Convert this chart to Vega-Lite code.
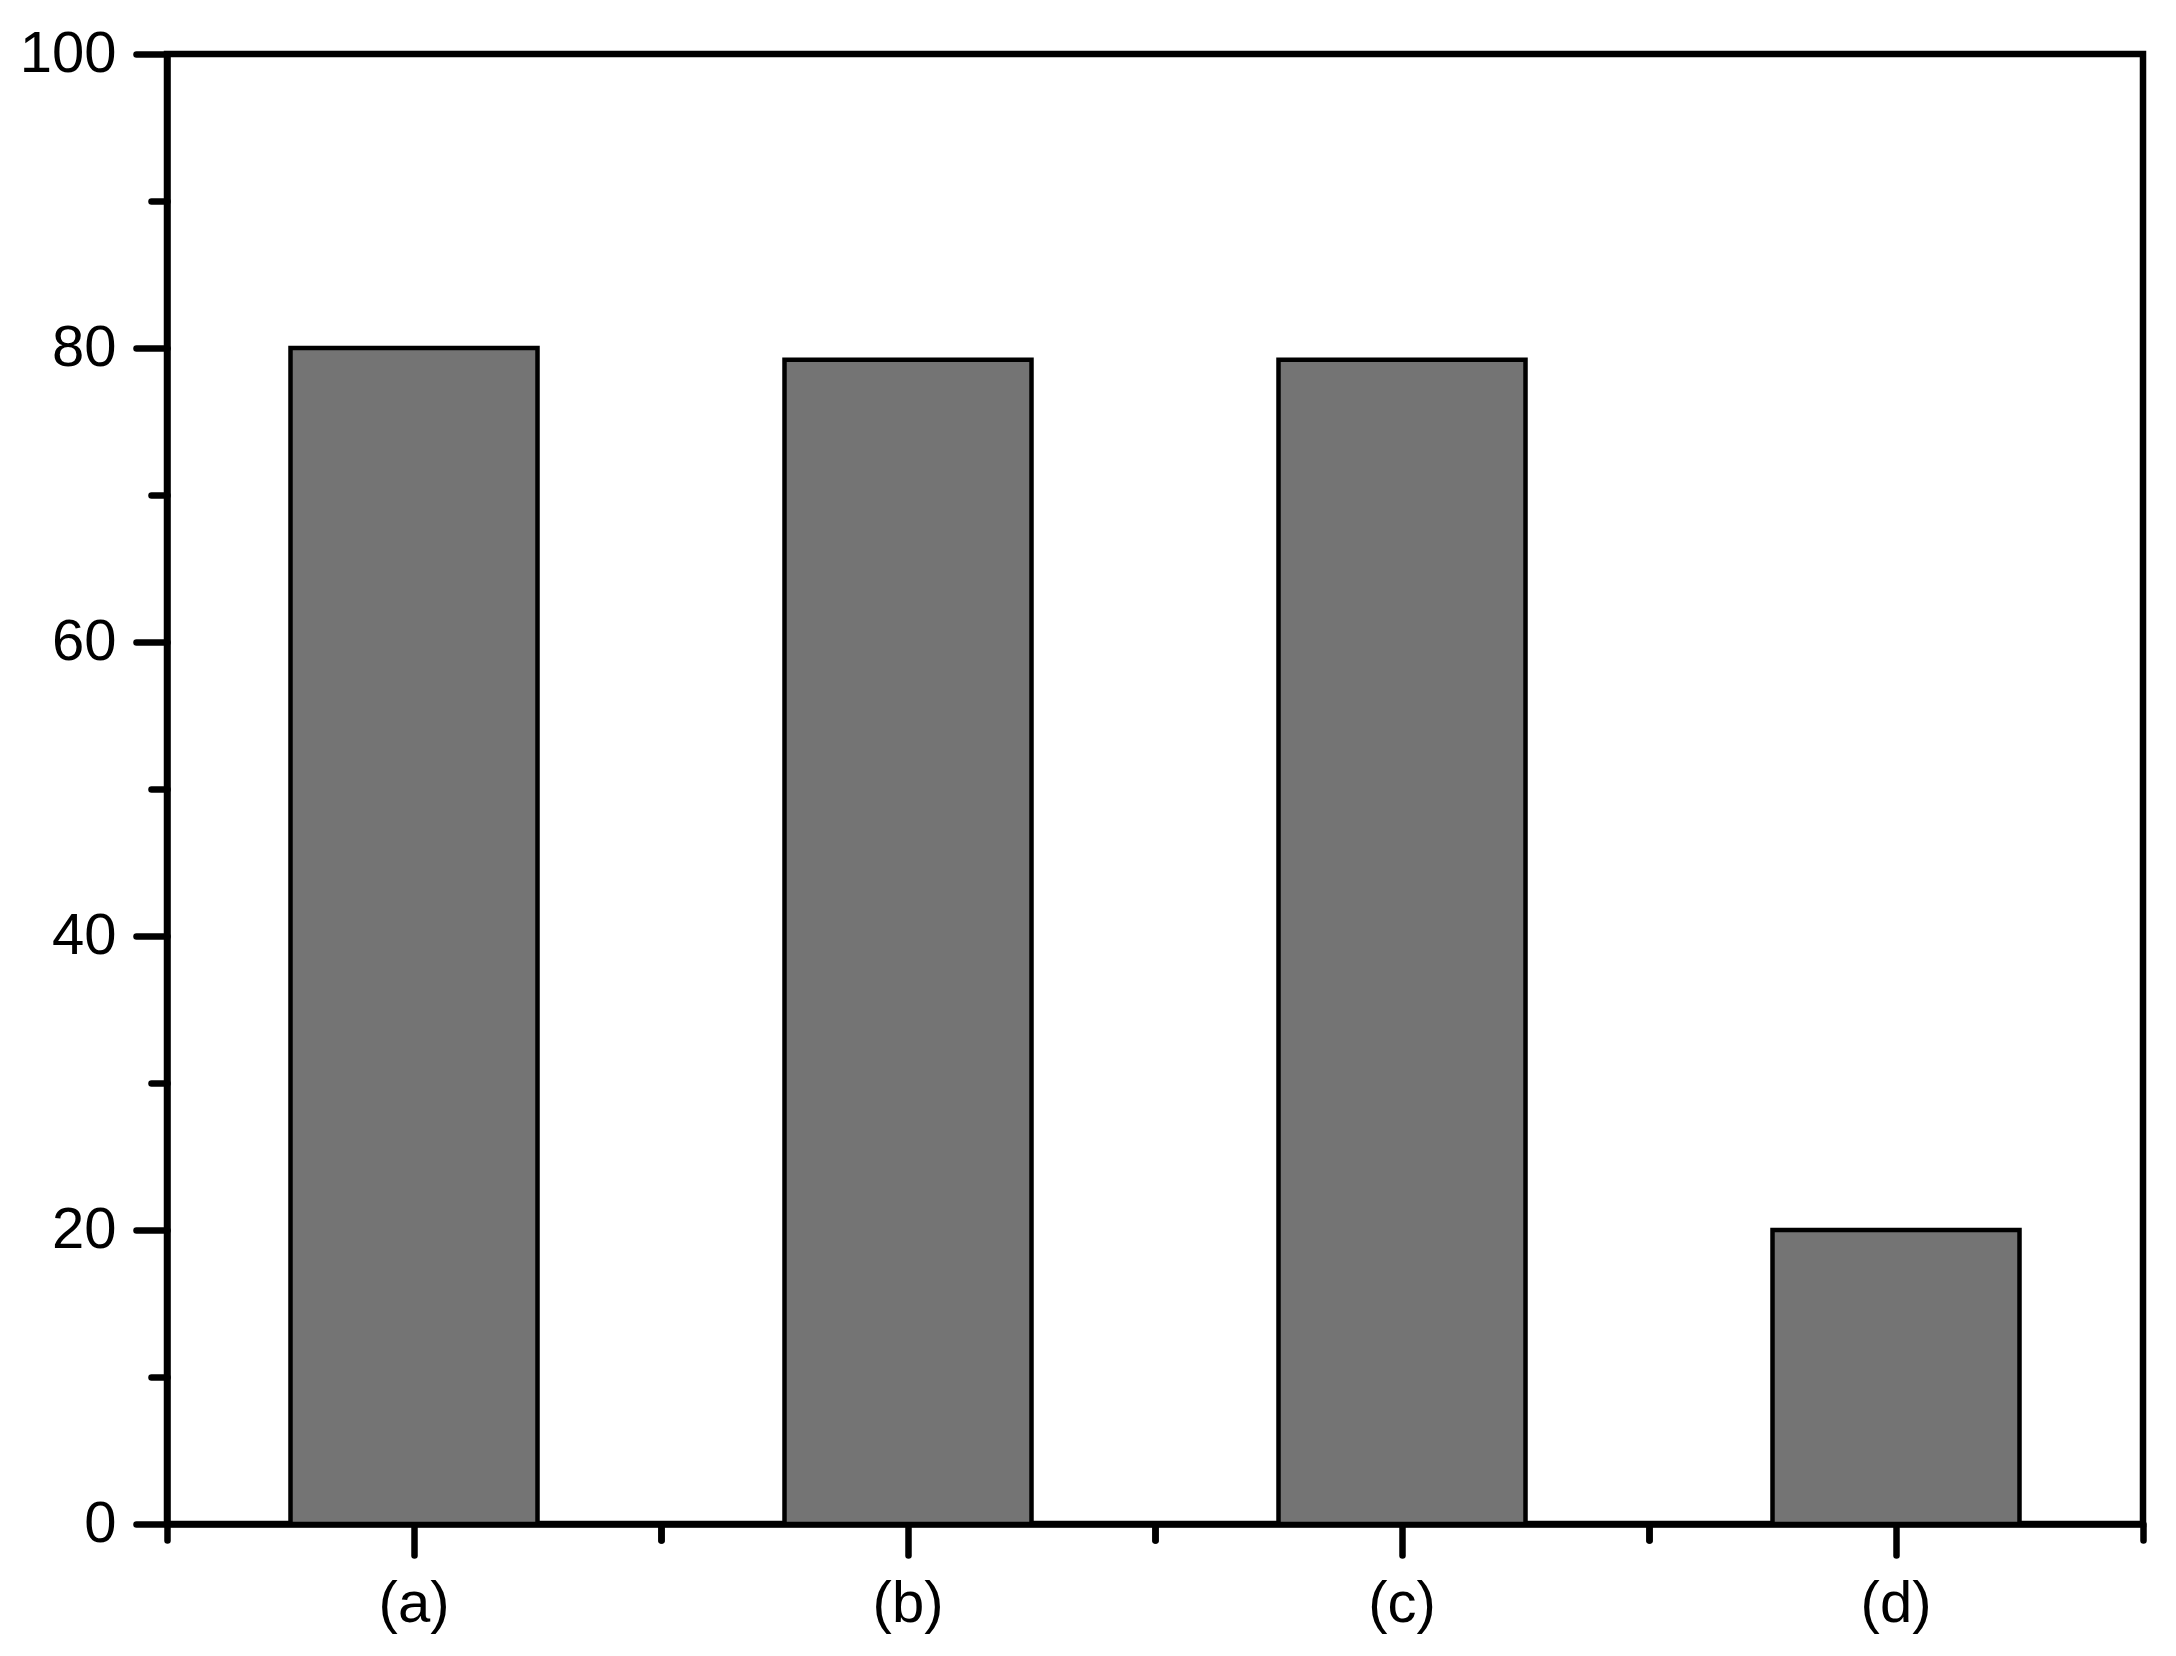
{
  "$schema": "https://vega.github.io/schema/vega-lite/v6.json",
  "width": 1976,
  "height": 1470,
  "autosize": "none",
  "padding": {"left": 167, "top": 54, "right": 33, "bottom": 132},
  "background": "white",
  "data": {
    "values": [
      {"sample": "(a)", "value": 80},
      {"sample": "(b)", "value": 79.2},
      {"sample": "(c)", "value": 79.2},
      {"sample": "(d)", "value": 20}
    ]
  },
  "config": {
    "view": {"stroke": "black", "strokeWidth": 6.5},
    "axis": {
      "grid": false,
      "title": null,
      "domainColor": "black",
      "domainWidth": 6.5,
      "tickColor": "black",
      "tickWidth": 6.5,
      "tickCap": "round",
      "labelFont": "Liberation Sans",
      "labelFontSize": 58,
      "labelColor": "black"
    }
  },
  "layer": [
    {
      "mark": {"type": "bar", "fill": "#747474", "stroke": "black", "strokeWidth": 4.5},
      "encoding": {
        "x": {
          "field": "sample", "type": "nominal", "sort": null,
          "scale": {"paddingInner": 0.5, "paddingOuter": 0.25},
          "axis": {"orient": "bottom", "labelAngle": 0, "tickSize": 31, "labelPadding": 20}
        },
        "y": {
          "field": "value", "type": "quantitative",
          "scale": {"domain": [0, 100], "nice": false},
          "axis": {"orient": "left", "values": [0, 20, 40, 60, 80, 100], "tickSize": 31, "labelPadding": 20}
        }
      }
    },
    {
      "mark": {"type": "bar", "opacity": 0},
      "encoding": {
        "x": {
          "field": "sample", "type": "nominal", "sort": null,
          "axis": {"orient": "bottom", "bandPosition": -0.5, "tickSize": 16, "labels": false, "domain": false}
        },
        "y": {
          "field": "value", "type": "quantitative",
          "axis": {"orient": "left", "values": [10, 30, 50, 70, 90], "tickSize": 16, "labels": false, "domain": false}
        }
      }
    },
    {
      "mark": {"type": "bar", "opacity": 0},
      "encoding": {
        "x": {
          "field": "sample", "type": "nominal", "sort": null,
          "axis": {"orient": "bottom", "bandPosition": 1.5, "tickSize": 16, "labels": false, "domain": false}
        },
        "y": {"field": "value", "type": "quantitative", "axis": null}
      }
    }
  ],
  "resolve": {"axis": {"x": "independent", "y": "independent"}}
}
